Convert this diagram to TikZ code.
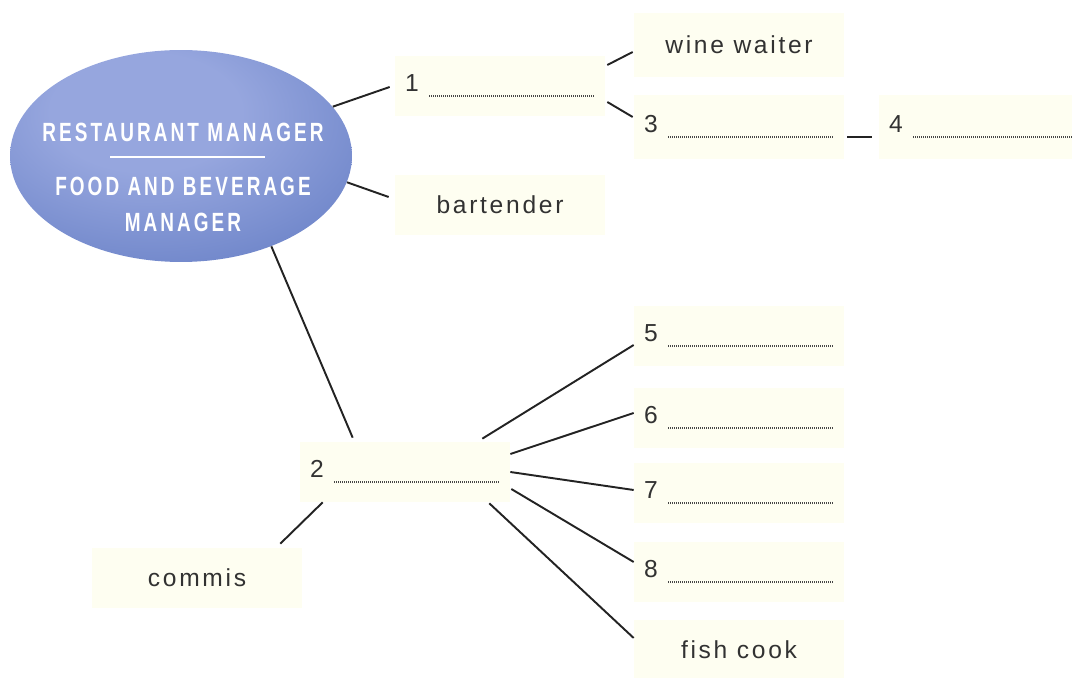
\documentclass[tikz,border=0pt]{standalone}
\usepackage{fontspec}
\setmainfont{Liberation Sans}
\newfontfamily\cardfont{Liberation Sans}[LetterSpace=11]
\newfontfamily\bossfont{Liberation Sans}[FakeStretch=0.72,LetterSpace=11.5]
\usepackage{tikz}
\usetikzlibrary{calc,shapes.geometric}
\usepackage{xcolor}
\definecolor{cardfill}{RGB}{254,254,241}
\definecolor{cardtext}{RGB}{50,50,50}
\definecolor{linkgray}{RGB}{35,35,35}
\definecolor{dotgray}{RGB}{70,70,70}
\definecolor{ellhi}{RGB}{150,166,222}
\definecolor{ellmid}{RGB}{104,128,198}
\definecolor{ellout}{RGB}{62,86,166}
\pgfdeclareradialshading{bossball}{\pgfpoint{-6bp}{12bp}}{color(0bp)=(ellhi); color(14bp)=(ellhi); color(40bp)=(ellmid); color(58bp)=(ellout); color(100bp)=(ellout)}

% number followed by a dotted blank
\newcommand{\blank}[1]{\makebox[3.8cm][l]{#1\hspace{5pt}{\color{dotgray}\leaders\hbox to 1.134pt{\hss\rule[-3pt]{0.6pt}{1.1pt}\hss}\hfill}}}

\begin{document}
\begin{tikzpicture}[x=0.02cm, y=-0.02cm,
  card/.style={fill=cardfill, minimum width=4.2cm, minimum height=1.2cm, inner sep=0pt,
    text=cardtext, font=\cardfont\fontsize{14}{16}\selectfont},
  boss/.style={ellipse, shade, shading=bossball, minimum width=6.84cm, minimum height=4.24cm, inner sep=0pt},
  bosstext/.style={text=white, inner sep=0pt, font=\bossfont\bfseries\fontsize{15}{17}\selectfont},
  link/.style={draw=linkgray, line width=1.1pt}]
  \useasboundingbox (0,0) rectangle (1072,678);

  % Manager ellipse
  \node[boss] (mgr) at (181,156) {};
  \node[bosstext] (bossA) at (183,132) {RESTAURANT MANAGER};
  \draw[white, line width=1.3pt] (110,157) -- (265,157);
  \node[bosstext] (bossB) at (183,186) {FOOD AND BEVERAGE};
  \node[bosstext] (bossC) at (183,222) {MANAGER};

  % Boxes
  \node[card] (b1) at (500,86) {\blank{1}};
  \node[card, minimum height=1.28cm] (wine) at (739,45) {wine waiter};
  \node[card, minimum height=1.28cm] (b3) at (739,127) {\blank{3}};
  \node[card, minimum height=1.28cm] (b4) at (984,127) {\blank{4}};
  \node[card] (bart) at (500,205) {bartender};
  \node[card] (b2) at (405,472) {\blank{2}};
  \node[card] (commis) at (197,578) {commis};
  \node[card] (b5) at (739,336) {\blank{5}};
  \node[card] (b6) at (739,418) {\blank{6}};
  \node[card] (b7) at (739,493) {\blank{7}};
  \node[card] (b8) at (739,572) {\blank{8}};
  \node[card] (fish) at (739,650) {fish cook};

  % Links
  \draw[link] (mgr.18) -- ($(b1.west)+(-5,1)$);
  \draw[link] (mgr.-9) -- ($(bart.west)+(-6,-8)$);
  \draw[link] (mgr.-45) -- ($(b2.north west)+(53,-4)$);
  \draw[link] ($(b1.east)+(2,-21)$) -- ($(wine.west)+(-1,7)$);
  \draw[link] ($(b1.east)+(2,16)$) -- ($(b3.west)+(-1,-10)$);
  \draw[link] ($(b3.east)+(3,10)$) -- ($(b4.west)+(-7,10)$);
  \draw[link] ($(b2.north east)+(-28,-3)$) -- ($(b5.west)+(0,9)$);
  \draw[link] ($(b2.east)+(0,-18)$) -- ($(b6.west)+(0,-5)$);
  \draw[link] (b2.east) -- ($(b7.west)+(0,-3)$);
  \draw[link] ($(b2.east)+(1,17)$) -- ($(b8.west)+(0,-10)$);
  \draw[link] ($(b2.south east)+(-21,1)$) -- ($(fish.west)+(0,-12)$);
  \draw[link] ($(b2.south west)+(23,0)$) -- ($(commis.north east)+(-22,-4)$);
\end{tikzpicture}
\end{document}
